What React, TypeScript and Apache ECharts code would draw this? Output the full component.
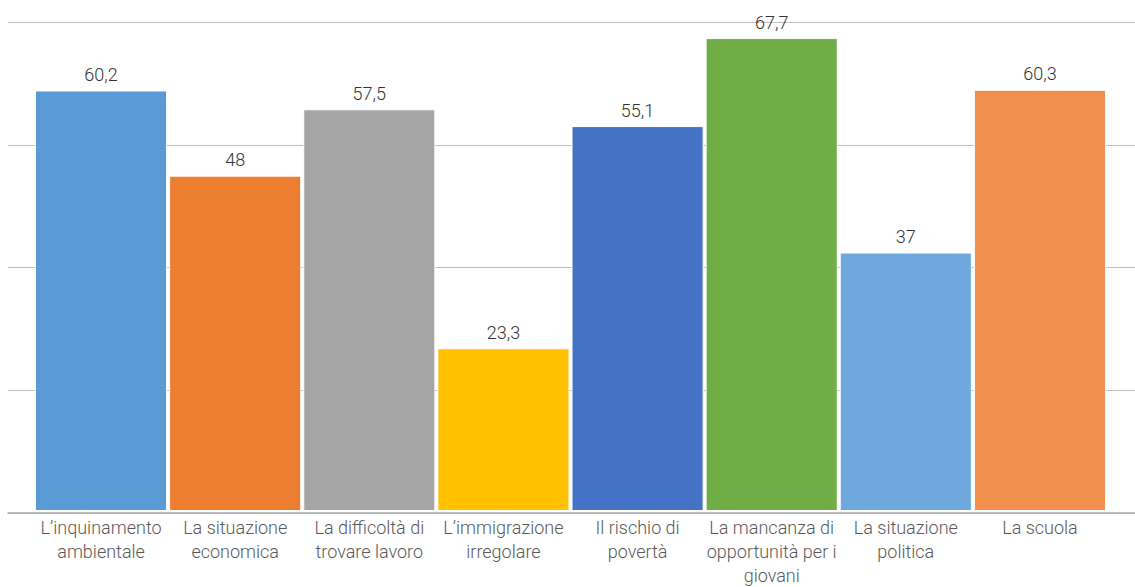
import React, { useEffect, useRef } from "react";
import * as echarts from "echarts";

const categories = [
  "L’inquinamento\nambientale",
  "La situazione\neconomica",
  "La difficoltà di\ntrovare lavoro",
  "L’immigrazione\nirregolare",
  "Il rischio di\npovertà",
  "La mancanza di\nopportunità per i\ngiovani",
  "La situazione\npolitica",
  "La scuola",
];
const values = [60.2, 48, 57.5, 23.3, 55.1, 67.7, 37, 60.3];
const colors = ["#5B9BD5", "#ED7D31", "#A5A5A5", "#FFC000", "#4472C4", "#70AD47", "#6FA8DC", "#F08F4E"];
const yMax = 70;
const yInterval = 17.5;

export default function App() {
  const ref = useRef<HTMLDivElement>(null);
  useEffect(() => {
    document.body.style.margin = "0";
    const chart = echarts.init(ref.current!, null, { renderer: "svg" });
    chart.setOption({
      animation: false,
      backgroundColor: "#ffffff",
      grid: [
        { left: 34, right: 28, top: 22, bottom: 74 },
        { left: 8, right: 0, top: 22, bottom: 74 },
      ],
      xAxis: [
        {
          type: "category",
          gridIndex: 0,
          data: categories,
          axisLine: { show: false },
          axisTick: { show: false },
          axisLabel: {
            color: "#595959",
            fontFamily: "Roboto",
            fontWeight: 300,
            fontSize: 18,
            lineHeight: 24,
            margin: 4,
            interval: 0,
          },
        },
        {
          type: "value",
          gridIndex: 1,
          show: true,
          axisLine: { show: true, onZero: false, lineStyle: { color: "#ABABAB", width: 1.5 } },
          axisTick: { show: false },
          axisLabel: { show: false },
          splitLine: { show: false },
        },
      ],
      yAxis: [
        {
          type: "value",
          gridIndex: 0,
          min: 0,
          max: yMax,
          interval: yInterval,
          axisLine: { show: false },
          axisTick: { show: false },
          axisLabel: { show: false },
          splitLine: { show: false },
        },
        {
          type: "value",
          gridIndex: 1,
          min: 0,
          max: yMax,
          interval: yInterval,
          axisLine: { show: false },
          axisTick: { show: false },
          axisLabel: { show: false },
          splitLine: { show: true, lineStyle: { color: "#BFBFBF", width: 1.2 } },
        },
      ],
      series: [
        {
          type: "bar",
          xAxisIndex: 0,
          yAxisIndex: 0,
          barCategoryGap: "1.5%",
          z: 3,
          data: values.map((v, i) => ({
            value: v,
            itemStyle: { color: colors[i], borderColor: "#ffffff", borderWidth: 1 },
          })),
          label: {
            show: true,
            position: "top",
            distance: 7,
            color: "#333333",
            fontFamily: "Roboto",
            fontWeight: 300,
            fontSize: 18,
            formatter: (p: any) => String(p.value).replace(".", ","),
          },
        },
      ],
    });
    return () => chart.dispose();
  }, []);
  return <div ref={ref} style={{ width: 1135, height: 587 }} />;
}
